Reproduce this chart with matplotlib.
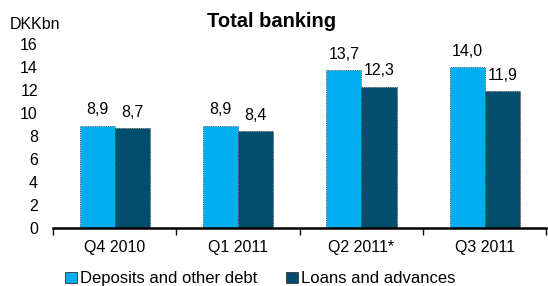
import matplotlib.pyplot as plt
from matplotlib.patches import Patch
import numpy as np

plt.rcParams['font.family'] = ['Liberation Sans', 'DejaVu Sans']

quarters = ['Q4 2010', 'Q1 2011', 'Q2 2011*', 'Q3 2011']
deposits = [8.9, 8.9, 13.7, 14.0]
loans = [8.7, 8.4, 12.3, 11.9]
series_names = ['Deposits and other debt', 'Loans and advances']

light = '#00adef'
dark = '#034e6e'

fig = plt.figure(figsize=(5.48, 2.86), dpi=100)
ax = fig.add_axes([0.097, 0.203, 0.9, 0.643])

x = np.arange(len(quarters))
w = 0.285
b1 = ax.bar(x - w / 2, deposits, w, color=light, edgecolor='#333333', linewidth=0.6, linestyle=':')
b2 = ax.bar(x + w / 2, loans, w, color=dark, edgecolor='#333333', linewidth=0.6, linestyle=':')

for bars, vals in ((b1, deposits), (b2, loans)):
    for r, v in zip(bars, vals):
        ax.annotate(f'{v:.1f}'.replace('.', ','), (r.get_x() + r.get_width() / 2, v),
                    xytext=(0, 6), textcoords='offset points', ha='center', va='bottom',
                    fontsize=11.5)

ax.set_xlim(-0.5, len(quarters) - 0.5)
ax.set_ylim(0, 16)
ax.set_yticks(range(0, 17, 2))
ax.set_xticks(x)
ax.set_xticklabels(quarters)
ax.set_xticks(np.arange(-0.5, len(quarters), 1), minor=True)
ax.tick_params(axis='x', which='major', length=0, pad=9, labelsize=11.5)
ax.tick_params(axis='x', which='minor', length=5, width=1, direction='out')
ax.tick_params(axis='y', length=0, pad=11, labelsize=11.5)
for s in ('top', 'right', 'left'):
    ax.spines[s].set_visible(False)
ax.spines['bottom'].set_linewidth(1.8)

fig.text(0.495, 0.925, 'Total banking', ha='center', va='center', fontsize=14.5, fontweight='bold')
fig.text(0.018, 0.915, 'DKKbn', ha='left', va='center', fontsize=11.5)

handles = [Patch(facecolor=light, edgecolor='#333333', linewidth=0.6),
           Patch(facecolor=dark, edgecolor='#333333', linewidth=0.6)]
fig.legend(handles, series_names, loc='center', bbox_to_anchor=(0.475, 0.025), ncol=2,
           frameon=False, fontsize=12, handlelength=0.7, handleheight=0.7,
           handletextpad=0.2, columnspacing=1.7)

fig.savefig('out.png', dpi=100)
